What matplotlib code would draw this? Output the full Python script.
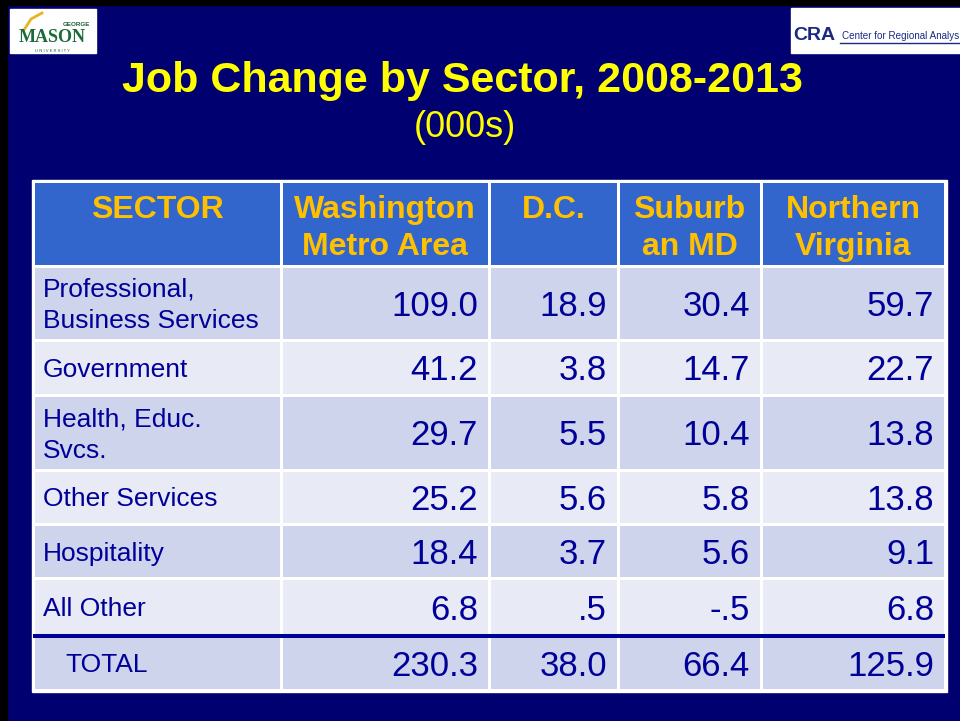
import matplotlib.pyplot as plt
from matplotlib.patches import Rectangle

# Dados da tabela
headers = ["SECTOR", "Washington\nMetro Area", "D.C.", "Suburb\nan MD", "Northern\nVirginia"]
sectors = ["Professional,\nBusiness Services", "Government", "Health, Educ.\nSvcs.",
           "Other Services", "Hospitality", "All Other", "TOTAL"]
washington = [109.0, 41.2, 29.7, 25.2, 18.4, 6.8, 230.3]
dc = [18.9, 3.8, 5.5, 5.6, 3.7, 0.5, 38.0]
suburban_md = [30.4, 14.7, 10.4, 5.8, 5.6, -0.5, 66.4]
northern_va = [59.7, 22.7, 13.8, 13.8, 9.1, 6.8, 125.9]
columns = [washington, dc, suburban_md, northern_va]

# Cores
bg = "#000070"
head_bg = "#3366CC"
head_txt = "#FFC000"
row_a = "#CED4EC"
row_b = "#E8EAF6"
txt = "#000099"
font = "Liberation Sans"

def fmt(v):
    s = f"{v:.1f}"
    return s.replace("0.", ".", 1) if abs(v) < 1 else s

fig = plt.figure(figsize=(9.6, 7.21), dpi=100)
fig.patch.set_facecolor(bg)
ax = fig.add_axes([0, 0, 1, 1])
ax.set_xlim(0, 960)
ax.set_ylim(721, 0)
ax.axis("off")

# bordas pretas do slide
ax.add_patch(Rectangle((0, 0), 960, 5, color="black"))
ax.add_patch(Rectangle((0, 0), 7, 721, color="black"))

# logotipos (aproximação em texto)
ax.add_patch(Rectangle((10, 9), 86, 44, color="white"))
ax.text(90, 26, "GEORGE", fontsize=4.5, color="#1B5E3A", ha="right", va="baseline",
        family=font, fontweight="bold")
ax.text(52, 42, "MASON", fontsize=13, color="#1B6B3A", ha="center", va="baseline",
        family="Liberation Serif", fontweight="bold")
ax.text(52, 52, "U N I V E R S I T Y", fontsize=3, color="#1B5E3A", ha="center",
        va="baseline", family=font)
ax.plot([24, 31, 42], [30, 19, 13], color="#E8B422", lw=2)

ax.add_patch(Rectangle((791, 8), 170, 45, color="white"))
ax.text(793, 40, "CRA", fontsize=14, color="#1A2A80", ha="left", va="baseline",
        family=font, fontweight="bold")
ax.text(959, 39, "Center for Regional Analys", fontsize=7.1, color="#1A2A80",
        ha="right", va="baseline", family=font)
ax.plot([840, 960], [43, 43], color="#1A2A80", lw=1)

# Títulos
ax.text(462, 92, "Job Change by Sector, 2008-2013", fontsize=31, color="#FFFF00",
        fontweight="bold", ha="center", va="baseline", family=font)
ax.text(465, 137, "(000s)", fontsize=26, color="#FFFF00", ha="center",
        va="baseline", family=font)

# geometria da tabela
col_edges = [33, 281, 489, 618, 761, 945]
row_edges = [181, 266, 340, 395, 470, 524, 578, 636, 690]

ax.add_patch(Rectangle((col_edges[0] - 1.5, row_edges[0] - 1.5),
                       col_edges[-1] - col_edges[0] + 3,
                       row_edges[-1] - row_edges[0] + 3, color="white"))

def cell(x0, x1, y0, y1, color):
    ax.add_patch(Rectangle((x0 + 1.5, y0 + 1.5), x1 - x0 - 3, y1 - y0 - 3,
                           color=color, lw=0))

def lines(x, yc, s, size, color, ha, cap, gap):
    parts = s.split("\n")
    y = yc - (len(parts) - 1) * gap / 2 + cap / 2
    for p in parts:
        ax.text(x, y, p, fontsize=size, color=color, ha=ha, va="baseline",
                family=font)
        y += gap

# cabeçalho
for j, h in enumerate(headers):
    x0, x1 = col_edges[j], col_edges[j + 1]
    cell(x0, x1, row_edges[0], row_edges[1], head_bg)
    for k, p in enumerate(h.split("\n")):
        ax.text((x0 + x1) / 2, 218 + 37 * k, p, fontsize=23, color=head_txt,
                fontweight="bold", ha="center", va="baseline", family=font)

# linhas de dados
for i, name in enumerate(sectors):
    y0, y1 = row_edges[i + 1], row_edges[i + 2]
    yc = (y0 + y1) / 2
    color = row_a if i % 2 == 0 else row_b
    for j in range(len(col_edges) - 1):
        cell(col_edges[j], col_edges[j + 1], y0, y1, color)
    indent = 65 if name == "TOTAL" else 43
    lines(indent, yc, name, 19, txt, "left", cap=19, gap=31)
    for j, vals in enumerate(columns):
        ax.text(col_edges[j + 2] - 11, yc + 12.5, fmt(vals[i]), fontsize=25,
                color=txt, ha="right", va="baseline", family=font)

# linha separadora antes do total
ax.add_patch(Rectangle((col_edges[0], row_edges[-2] - 2), col_edges[-1] - col_edges[0],
                       4, color="#000099", lw=0))

fig.savefig("out.png", dpi=100, facecolor=bg)
